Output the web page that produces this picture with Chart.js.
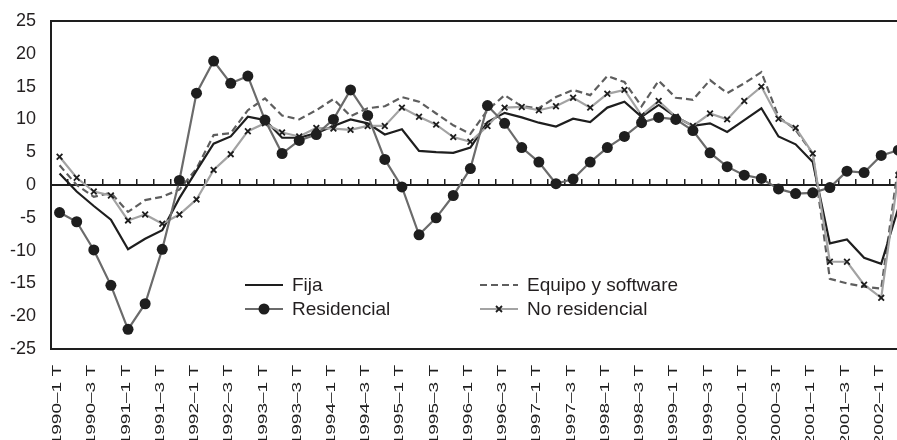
<!DOCTYPE html>
<html>
<head>
<meta charset="utf-8">
<script src="https://cdn.jsdelivr.net/npm/chart.js@4.4.1/dist/chart.umd.min.js"></script>
<style>
  html, body { margin: 0; padding: 0; background: #fff; }
  #wrap { position: relative; width: 897px; height: 440px; overflow: hidden; background: #fff; }
  #c { position: absolute; left: 0; top: 0; }
  #legend {
    position: absolute; left: 245px; top: 273px;
    display: grid; grid-template-columns: 235px 220px;
    font: 19px "Liberation Sans", Arial, sans-serif; color: #231f20;
  }
  .item { display: flex; align-items: center; height: 24px; white-space: nowrap; }
  .item svg { margin-right: 9px; flex: none; }
</style>
</head>
<body>
<div id="wrap">
  <canvas id="c" width="925" height="440"></canvas>
  <div id="legend"></div>
</div>
<script>
// trimestres 1990-1 .. 2002-3
var years = [1990, 1991, 1992, 1993, 1994, 1995, 1996, 1997, 1998, 1999, 2000, 2001, 2002];
var quarters = [];
years.forEach(function (y) {
  [1, 2, 3, 4].forEach(function (q) {
    if (y === 2002 && q === 4) return;
    quarters.push(y + '\u2013' + q + ' T');
  });
});

var tickLabels = [
  '1990\u20131 T', '1990\u20133 T', '1991\u20131 T', '1991\u20133 T', '1992\u20131 T', '1992\u20133 T',
  '1993\u20131 T', '1993\u20133 T', '1994\u20131 T', '1994\u20133 T', '1995\u20131 T', '1995\u20133 T',
  '1996\u20131 T', '1996\u20133 T', '1997\u20131 T', '1997\u20133 T', '1998\u20131 T', '1998\u20133 T',
  '1999\u20131 T', '1999\u20133 T', '2000\u20131 T', '2000\u20133 T', '2001\u20131 T', '2001\u20133 T',
  '2002\u20131 T', '2002\u20133 T'
];

var yTicks = [-25, -20, -15, -10, -5, 0, 5, 10, 15, 20, 25];

var fija = [1.75, -1.0, -3.2, -5.3, -9.8, -8.2, -6.9, -2.0, 2.2, 6.3,
  7.4, 10.4, 9.9, 7.2, 7.2, 7.9, 9.0, 10.0, 9.4, 7.7,
  8.5, 5.2, 5.0, 4.9, 5.7, 9.6, 11.0, 10.3, 9.5, 8.9,
  10.1, 9.6, 11.8, 12.7, 10.4, 12.2, 10.4, 9.0, 9.4, 8.1,
  9.9, 11.7, 7.4, 6.2, 3.5, -8.9, -8.3, -11.1, -12.0, -3.5];

var residencial = [-4.2, -5.6, -9.9, -15.3, -22.0, -18.1, -9.8, 0.7, 14.0, 18.9,
  15.5, 16.6, 9.9, 4.8, 6.8, 7.7, 10.0, 14.5, 10.6, 3.9,
  -0.3, -7.6, -5.0, -1.6, 2.5, 12.1, 9.4, 5.7, 3.5, 0.2,
  0.9, 3.5, 5.7, 7.4, 9.5, 10.3, 10.0, 8.3, 4.9, 2.8,
  1.5, 1.0, -0.6, -1.3, -1.2, -0.4, 2.1, 1.9, 4.5, 5.3];

var equipo = [3.0, 0.0, -1.8, -1.2, -4.1, -2.3, -1.8, -0.7, 2.5, 7.6,
  7.9, 11.4, 13.2, 10.6, 10.0, 11.4, 13.1, 10.5, 11.7, 12.0,
  13.4, 12.7, 10.9, 9.1, 7.8, 11.4, 13.7, 12.0, 11.7, 13.4,
  14.5, 13.7, 16.6, 15.7, 12.0, 15.9, 13.3, 13.0, 16.0, 14.0,
  15.5, 17.2, 10.4, 8.4, 4.8, -14.3, -15.0, -15.5, -15.8, 3.0];

var noResidencial = [4.3, 1.1, -1.0, -1.6, -5.4, -4.5, -5.9, -4.5, -2.2, 2.3,
  4.7, 8.2, 9.4, 8.0, 7.4, 8.7, 8.6, 8.4, 9.0, 9.0,
  11.8, 10.4, 9.2, 7.3, 6.6, 9.0, 11.8, 11.9, 11.4, 12.0,
  13.3, 11.8, 13.9, 14.5, 10.6, 12.8, 10.4, 9.0, 10.9, 10.0,
  12.8, 15.0, 10.1, 8.7, 4.8, -11.7, -11.7, -15.2, -17.2, 1.5];

var INK = '#1e1e1e';
var FONT = '"Liberation Sans", Arial, sans-serif';

var datasets = [
  { label: 'Fija', data: fija, borderColor: INK, borderWidth: 2.2, pointRadius: 0, order: 2 },
  { label: 'Residencial', data: residencial, borderColor: '#6b6b6b', borderWidth: 2.2,
    pointStyle: 'circle', pointRadius: 5.5, pointBackgroundColor: INK, pointBorderColor: INK, pointBorderWidth: 0, order: 0 },
  { label: 'Equipo y software', data: equipo, borderColor: '#5e5e5e', borderWidth: 2.2,
    borderDash: [7, 4], pointRadius: 0, order: 3 },
  { label: 'No residencial', data: noResidencial, borderColor: '#a3a3a3', borderWidth: 2.2,
    pointStyle: 'crossRot', pointRadius: 4, pointBorderColor: INK, pointBorderWidth: 1.8, order: 1 }
];
datasets.forEach(function (d) { d.tension = 0; d.fill = false; d.pointHoverRadius = d.pointRadius; });

// rotated, condensed quarter labels under the plot
var xLabelPlugin = {
  id: 'xLabels',
  afterDraw: function (chart) {
    var sc = chart.scales.x, ctx = chart.ctx;
    ctx.save();
    ctx.fillStyle = '#1e1e1e';
    ctx.font = '19px ' + FONT;
    ctx.textAlign = 'right';
    ctx.textBaseline = 'middle';
    tickLabels.forEach(function (lab) {
      var x = sc.getPixelForValue(quarters.indexOf(lab));
      ctx.save();
      ctx.translate(x - 2, chart.chartArea.bottom + 16);
      ctx.rotate(-Math.PI / 2);
      ctx.scale(1, 0.68);
      ctx.fillText(lab, 0, 0);
      ctx.restore();
    });
    ctx.restore();
  }
};

var chart = new Chart(document.getElementById('c'), {
  type: 'line',
  data: { labels: quarters, datasets: datasets },
  options: {
    responsive: false,
    animation: false,
    layout: { autoPadding: false, padding: { left: 0, right: 1, top: 21, bottom: 91 } },
    plugins: { legend: { display: false }, tooltip: { enabled: false } },
    scales: {
      x: {
        type: 'category', offset: true,
        grid: { display: false, drawTicks: false },
        ticks: { display: false },
        border: { display: true, color: INK, width: 2 }
      },
      xz: {
        type: 'category', labels: quarters, offset: true,
        position: { y: 0 },
        grid: { offset: true, drawOnChartArea: false, drawTicks: true, tickLength: -7, color: INK, lineWidth: 1.5 },
        ticks: { display: false },
        border: { display: true, color: INK, width: 2 }
      },
      y: {
        min: -25, max: 25,
        afterBuildTicks: function (s) { s.ticks = yTicks.map(function (v) { return { value: v }; }); },
        afterFit: function (s) { s.width = 51; s.paddingTop = 11; s.paddingBottom = 11; },
        ticks: { color: '#231f20', font: { family: FONT, size: 18 }, padding: 15 },
        grid: {
          drawTicks: false, lineWidth: 2,
          color: function (c) { return c.tick && c.tick.value === 25 ? INK : 'rgba(0,0,0,0)'; }
        },
        border: { display: true, color: INK, width: 2 }
      }
    }
  },
  plugins: [xLabelPlugin]
});

// legend, two columns like the original
var legendOrder = [0, 2, 1, 3];
var legend = document.getElementById('legend');
legendOrder.forEach(function (idx) {
  var d = datasets[idx];
  var svg = '<svg width="38" height="14" viewBox="0 0 38 14">' +
    '<line x1="0" y1="7" x2="38" y2="7" stroke="' + d.borderColor + '" stroke-width="' + d.borderWidth + '"' +
    (d.borderDash ? ' stroke-dasharray="' + d.borderDash.join(' ') + '"' : '') + '/>';
  if (d.pointStyle === 'circle') svg += '<circle cx="19" cy="7" r="5.5" fill="' + INK + '"/>';
  if (d.pointStyle === 'crossRot') svg += '<path d="M16 4 L22 10 M22 4 L16 10" stroke="' + INK + '" stroke-width="1.8"/>';
  svg += '</svg>';
  var el = document.createElement('div');
  el.className = 'item';
  el.innerHTML = svg + '<span>' + d.label + '</span>';
  legend.appendChild(el);
});
</script>
</body>
</html>
